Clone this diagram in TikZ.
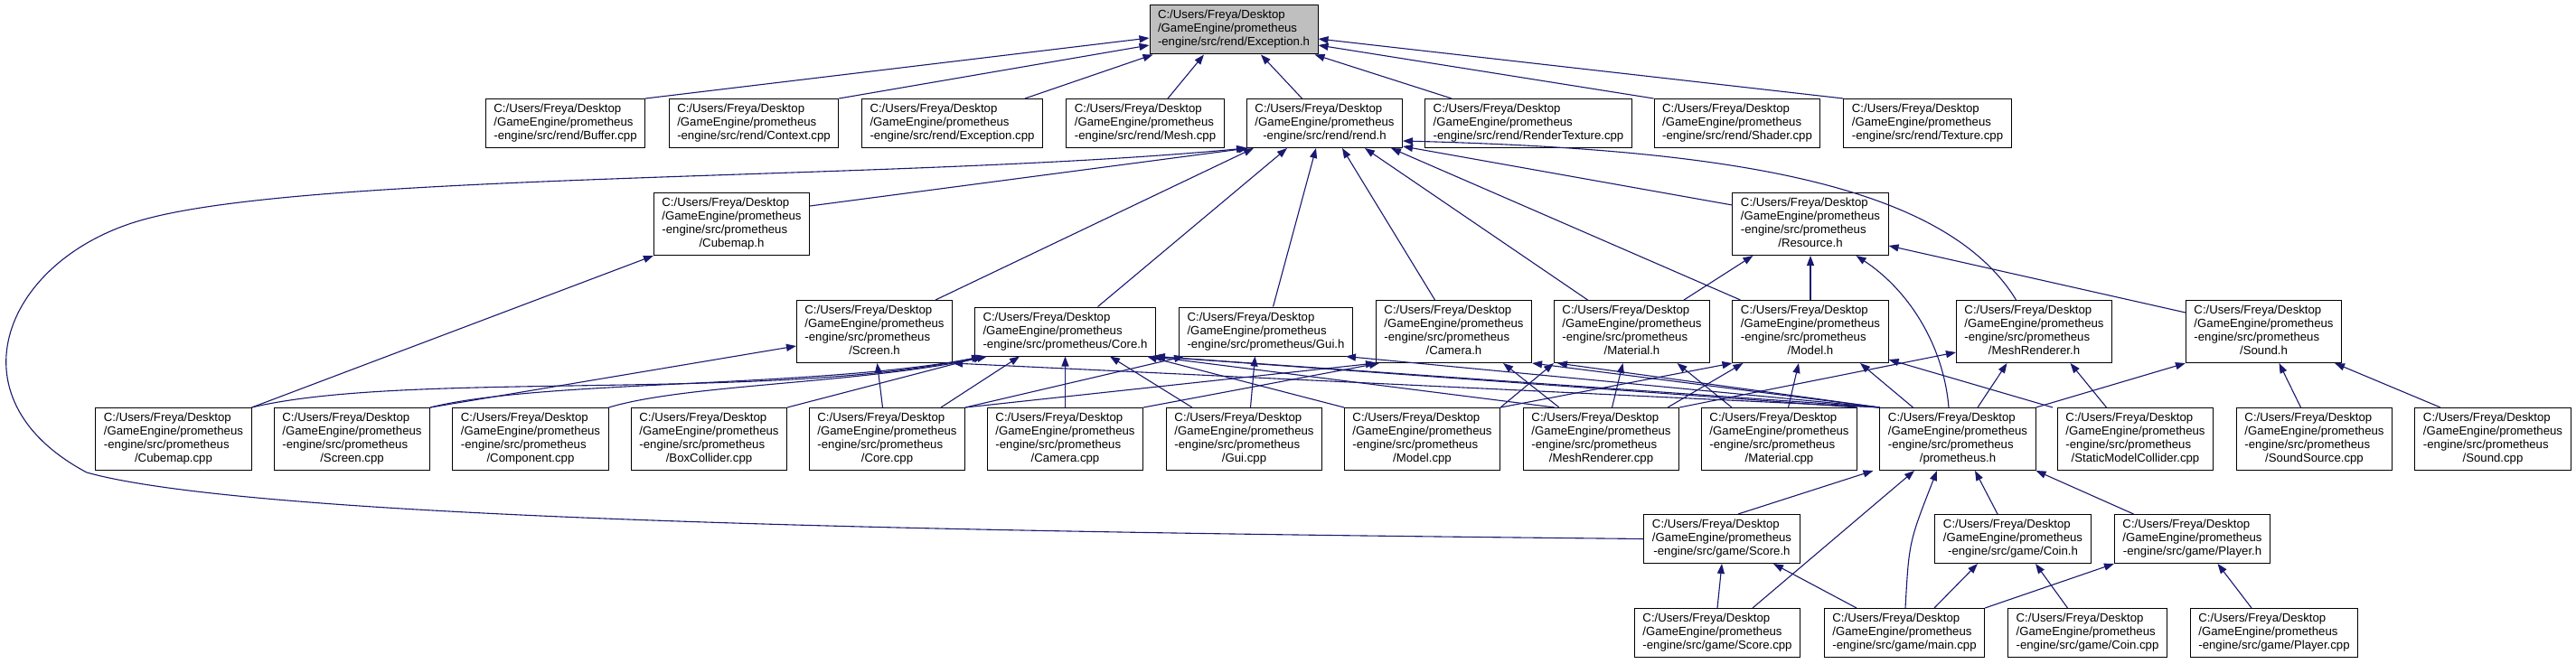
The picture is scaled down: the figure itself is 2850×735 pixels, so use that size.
\documentclass[tikz,border=0pt]{standalone}
\usepackage{fontspec}
\setmainfont{Liberation Sans}
\usepackage{tikz}
\usetikzlibrary{arrows.meta}
\definecolor{depblue}{RGB}{25,25,112}
\definecolor{hdrgray}{RGB}{191,191,191}

% label helpers: first lines left, last line centred
\newcommand{\hdr}{C:/Users/Freya/Desktop\\/GameEngine/prometheus}
\newcommand{\rendfile}[1]{\begin{tabular}{@{}l@{}}\hdr\\\multicolumn{1}{@{}c@{}}{-engine/src/rend/#1}\end{tabular}}
\newcommand{\gamefile}[1]{\begin{tabular}{@{}l@{}}\hdr\\\multicolumn{1}{@{}c@{}}{-engine/src/game/#1}\end{tabular}}
\newcommand{\promline}[1]{\begin{tabular}{@{}l@{}}\hdr\\\multicolumn{1}{@{}c@{}}{-engine/src/prometheus/#1}\end{tabular}}
\newcommand{\promfile}[1]{\begin{tabular}{@{}l@{}}\hdr\\-engine/src/prometheus\\\multicolumn{1}{@{}c@{}}{/#1}\end{tabular}}

\tikzset{
  file/.style={draw=black, fill=white, line width=1pt, inner xsep=9pt,
               inner ysep=4.5pt, font=\fontsize{13.2}{15}\selectfont},
  focus/.style={file, fill=hdrgray},
  dep/.style={draw=depblue, line width=1.1pt,
              -{Triangle[length=11pt, width=8pt]}}
}

\begin{document}
\begin{tikzpicture}[x=1pt, y=-1pt]

\fill[white] (0,0) rectangle (2850,735);
\useasboundingbox (0,0) rectangle (2850,735);

%% top: the header and the rend files
\node[focus] (exh) at (1365,33) {\rendfile{Exception.h}};
\node[file] (bufcpp)  at (625.5,136.5) {\rendfile{Buffer.cpp}};
\node[file] (ctxcpp)  at (834,136.5)   {\rendfile{Context.cpp}};
\node[file] (excpp)   at (1053.5,136.5){\rendfile{Exception.cpp}};
\node[file] (meshcpp) at (1267,136.5)  {\rendfile{Mesh.cpp}};
\node[file] (rendh)   at (1465.5,136.5){\rendfile{rend.h}};
\node[file] (rtcpp)   at (1691,136.5)  {\rendfile{RenderTexture.cpp}};
\node[file] (shcpp)   at (1922,136.5)  {\rendfile{Shader.cpp}};
\node[file] (texcpp)  at (2132.5,136.5){\rendfile{Texture.cpp}};

%% prometheus headers
\node[file] (cubh)  at (809.5,248) {\promfile{Cubemap.h}};
\node[file] (resh)  at (2003,248)  {\promfile{Resource.h}};
\node[file] (scrh)  at (967.5,367) {\promfile{Screen.h}};
\node[file] (coreh) at (1178.5,367){\promline{Core.h}};
\node[file] (guih)  at (1400.5,367){\promline{Gui.h}};
\node[file] (camh)  at (1608.5,367){\promfile{Camera.h}};
\node[file] (matlh) at (1805.5,367){\promfile{Material.h}};
\node[file] (modh)  at (2003,367)  {\promfile{Model.h}};
\node[file] (mrh)   at (2250.5,367){\promfile{MeshRenderer.h}};
\node[file] (sndh)  at (2504.5,367){\promfile{Sound.h}};

%% prometheus sources
\node[file] (cubcpp)  at (192,486)    {\promfile{Cubemap.cpp}};
\node[file] (scrcpp)  at (389.5,486)  {\promfile{Screen.cpp}};
\node[file] (cmpcpp)  at (587,486)    {\promfile{Component.cpp}};
\node[file] (boxcpp)  at (784.5,486)  {\promfile{BoxCollider.cpp}};
\node[file] (corecpp) at (981.5,486)  {\promfile{Core.cpp}};
\node[file] (camcpp)  at (1178.5,486) {\promfile{Camera.cpp}};
\node[file] (guicpp)  at (1376.5,486) {\promfile{Gui.cpp}};
\node[file] (modcpp)  at (1573.5,486) {\promfile{Model.cpp}};
\node[file] (mrcpp)   at (1771.5,486) {\promfile{MeshRenderer.cpp}};
\node[file] (matcpp)  at (1968.5,486) {\promfile{Material.cpp}};
\node[file] (promh)   at (2166,486)   {\promfile{prometheus.h}};
\node[file] (smccpp)  at (2362.5,486) {\promfile{StaticModelCollider.cpp}};
\node[file] (sscpp)   at (2560.5,486) {\promfile{SoundSource.cpp}};
\node[file] (sndcpp)  at (2758,486)   {\promfile{Sound.cpp}};

%% game
\node[file] (scoreh)    at (1905,596.5)  {\gamefile{Score.h}};
\node[file] (coinh)     at (2227,596.5)  {\gamefile{Coin.h}};
\node[file] (playerh)   at (2425.5,596.5){\gamefile{Player.h}};
\node[file] (scorecpp)  at (1900,700.5)  {\gamefile{Score.cpp}};
\node[file] (maincpp)   at (2107,700.5)  {\gamefile{main.cpp}};
\node[file] (coincpp)   at (2309.5,700.5){\gamefile{Coin.cpp}};
\node[file] (playercpp) at (2516,700.5)  {\gamefile{Player.cpp}};

%% includes of Exception.h
\draw[dep] (bufcpp.north east) -- ([yshift=-9pt]exh.west);
\draw[dep] (ctxcpp.north east) -- ([yshift=-17pt]exh.west);
\draw[dep] ([xshift=-20pt]excpp.north east) -- ([xshift=4pt]exh.south west);
\draw[dep] ([xshift=25pt]meshcpp.north) -- ([xshift=-33pt]exh.south);
\draw[dep] ([xshift=-25pt]rendh.north) -- ([xshift=30pt]exh.south);
\draw[dep] ([xshift=-85pt]rtcpp.north) -- ([xshift=-4pt]exh.south east);
\draw[dep] (shcpp.north west) -- ([yshift=-17pt]exh.east);
\draw[dep] (texcpp.north west) -- ([yshift=-10pt]exh.east);

%% includes of rend.h
\draw[dep] (scoreh.west) .. controls (1200,590) and (300,580) .. (96,523)
  .. controls (-60,440) and (6,285) .. (159,243)
  .. controls (350,190) and (1000,200) .. (rendh.south west);
\draw[dep] ([yshift=-15pt]cubh.north east) -- ([xshift=2pt]rendh.south west);
\draw[dep] ([xshift=-19pt]scrh.north east) -- ([xshift=8pt]rendh.south west);
\draw[dep] ([xshift=36pt]coreh.north) -- ([xshift=45pt]rendh.south west);
\draw[dep] ([xshift=8pt]guih.north) -- ([xshift=77pt]rendh.south west);
\draw[dep] ([xshift=-21pt]camh.north) -- ([xshift=106pt]rendh.south west);
\draw[dep] ([xshift=-49pt]matlh.north) -- ([xshift=131pt]rendh.south west);
\draw[dep] ([xshift=9pt]modh.north west) -- ([xshift=160pt]rendh.south west);
\draw[dep] ([yshift=21pt]resh.west) -- ([yshift=2pt]rendh.south east);
\draw[dep] ([xshift=-20pt]mrh.north) .. controls (2150,200) and (1900,165)
  .. ([yshift=8pt]rendh.south east);

%% Cubemap.h and Resource.h
\draw[dep] (cubcpp.north east) -- (cubh.south west);
\draw[dep] ([xshift=-29pt]matlh.north east) -- ([xshift=23pt]resh.south west);
\draw[dep] (modh.north) -- (resh.south);
\draw[dep] ([xshift=-10pt]promh.north) .. controls (2150,380) and (2110,320)
  .. ([xshift=-36pt]resh.south east);
\draw[dep] ([yshift=21pt]sndh.west) -- ([yshift=-24pt]resh.east);

%% Screen.h
\draw[dep] (scrcpp.north east) -- ([yshift=-16pt]scrh.west);
\draw[dep] ([xshift=-5pt]corecpp.north) -- ([xshift=3pt]scrh.south);
\draw[dep] (promh.north west) -- (scrh.south east);

%% Core.h
\draw[dep] (cubcpp.north east) .. controls (450,410) and (850,445)
  .. ([xshift=8pt]coreh.south west);
\draw[dep] (scrcpp.north east) .. controls (600,420) and (900,430)
  .. ([xshift=11pt]coreh.south west);
\draw[dep] (cmpcpp.north east) .. controls (760,425) and (950,425)
  .. ([xshift=14pt]coreh.south west);
\draw[dep] (boxcpp.north east) -- ([xshift=10pt]coreh.south west);
\draw[dep] ([xshift=-27pt]corecpp.north east) -- ([xshift=50pt]coreh.south west);
\draw[dep] (camcpp.north) -- (coreh.south);
\draw[dep] ([xshift=29pt]guicpp.north west) -- ([xshift=-51pt]coreh.south east);
\draw[dep] (modcpp.north west) -- ([xshift=-10pt]coreh.south east);
\draw[dep] ([xshift=35pt]mrcpp.north west) -- ([xshift=-5pt]coreh.south east);
\draw[dep] (matcpp.north east) -- ([xshift=-2pt]coreh.south east);
\draw[dep] (promh.north west) -- ([xshift=-1pt]coreh.south east);

%% Gui.h
\draw[dep] (corecpp.north east) -- ([xshift=6pt]guih.south west);
\draw[dep] ([xshift=7pt]guicpp.north) -- ([xshift=-12pt]guih.south);
\draw[dep] (promh.north west) -- ([xshift=-8pt]guih.south east);

%% Camera.h
\draw[dep] (corecpp.north east) -- (camh.south west);
\draw[dep] (camcpp.north east) -- ([xshift=4pt]camh.south west);
\draw[dep] ([xshift=40pt]mrcpp.north west) -- ([xshift=-32pt]camh.south east);
\draw[dep] (promh.north west) -- (camh.south east);

%% Material.h
\draw[dep] (modcpp.north east) -- (matlh.south west);
\draw[dep] ([xshift=12pt]mrcpp.north) -- ([xshift=-10pt]matlh.south);
\draw[dep] ([xshift=34pt]matcpp.north west) -- ([xshift=50pt]matlh.south);
\draw[dep] (promh.north west) -- ([xshift=4pt]matlh.south west);

%% Model.h
\draw[dep] (modcpp.north east) -- (modh.south west);
\draw[dep] ([xshift=-13pt]mrcpp.north east) -- ([xshift=12pt]modh.south west);
\draw[dep] ([xshift=10pt]matcpp.north) -- ([xshift=-13pt]modh.south);
\draw[dep] ([xshift=37pt]promh.north west) -- ([xshift=55pt]modh.south);
\draw[dep] ([xshift=-5pt]smccpp.north west) -- ([yshift=4pt]modh.south east);

%% MeshRenderer.h
\draw[dep] (mrcpp.north east) -- ([yshift=-23pt]mrh.west);
\draw[dep] ([xshift=22pt]promh.north) -- ([xshift=-30pt]mrh.south);
\draw[dep] ([xshift=-32pt]smccpp.north) -- ([xshift=40pt]mrh.south);

%% Sound.h
\draw[dep] (promh.north east) -- (sndh.south west);
\draw[dep] ([xshift=-15pt]sscpp.north) -- ([xshift=17pt]sndh.south);
\draw[dep] ([xshift=-58pt]sndcpp.north) -- ([xshift=-8pt]sndh.south east);

%% prometheus.h and the game files
\draw[dep] ([xshift=18pt]scoreh.north) -- ([xshift=-7pt]promh.south west);
\draw[dep] ([xshift=39pt]scorecpp.north) -- ([xshift=-48pt]promh.south);
\draw[dep] ([xshift=1pt]maincpp.north) .. controls (2112,600) .. ([xshift=-23pt]promh.south);
\draw[dep] ([xshift=-17pt]coinh.north) -- ([xshift=19pt]promh.south);
\draw[dep] ([xshift=-65pt]playerh.north) -- (promh.south east);
\draw[dep] (scorecpp.north) -- (scoreh.south);
\draw[dep] ([xshift=-53pt]maincpp.north) -- ([xshift=57pt]scoreh.south);
\draw[dep] ([xshift=33pt]maincpp.north) -- ([xshift=-39pt]coinh.south);
\draw[dep] ([xshift=-22pt]coincpp.north) -- ([xshift=25pt]coinh.south);
\draw[dep] (maincpp.north east) -- (playerh.south west);
\draw[dep] ([xshift=-25pt]playercpp.north) -- ([xshift=28pt]playerh.south);

\end{tikzpicture}
\end{document}
